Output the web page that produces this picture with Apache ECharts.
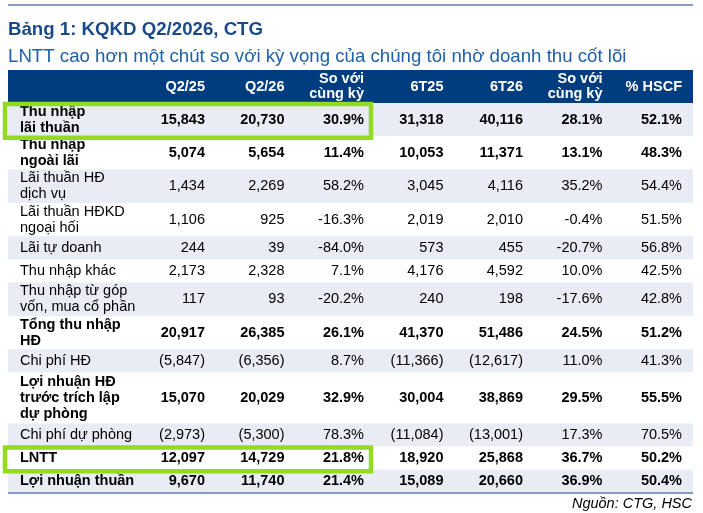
<!DOCTYPE html>
<html>
<head>
<meta charset="utf-8">
<script src="https://cdn.jsdelivr.net/npm/echarts@6/dist/echarts.min.js"></script>
<style>
  html, body { margin: 0; padding: 0; background: #fff; }
  #main { width: 703px; height: 513px; }
</style>
</head>
<body>
<div id="main"></div>
<script>
// cột tiêu đề
const columns = ['', 'Q2/25', 'Q2/26', 'So với\ncùng kỳ', '6T25', '6T26', 'So với\ncùng kỳ', '% HSCF'];

// tên dòng
const rowNames = [
  'Thu nhập\nlãi thuần',
  'Thu nhập\nngoài lãi',
  'Lãi thuần HĐ\ndịch vụ',
  'Lãi thuần HĐKD\nngoại hối',
  'Lãi tự doanh',
  'Thu nhập khác',
  'Thu nhập từ góp\nvốn, mua cổ phần',
  'Tổng thu nhập\nHĐ',
  'Chi phí HĐ',
  'Lợi nhuận HĐ\ntrước trích lập\ndự phòng',
  'Chi phí dự phòng',
  'LNTT',
  'Lợi nhuận thuần'
];

// số liệu (tỷ đồng, %)
const q2_25 = [15843, 5074, 1434, 1106, 244, 2173, 117, 20917, -5847, 15070, -2973, 12097, 9670];
const q2_26 = [20730, 5654, 2269, 925, 39, 2328, 93, 26385, -6356, 20029, -5300, 14729, 11740];
const yoyQ = [30.9, 11.4, 58.2, -16.3, -84.0, 7.1, -20.2, 26.1, 8.7, 32.9, 78.3, 21.8, 21.4];
const h1_25 = [31318, 10053, 3045, 2019, 573, 4176, 240, 41370, -11366, 30004, -11084, 18920, 15089];
const h1_26 = [40116, 11371, 4116, 2010, 455, 4592, 198, 51486, -12617, 38869, -13001, 25868, 20660];
const yoyH = [28.1, 13.1, 35.2, -0.4, -20.7, 10.0, -17.6, 24.5, 11.0, 29.5, 17.3, 36.7, 36.9];
const hscf = [52.1, 48.3, 54.4, 51.5, 56.8, 42.5, 42.8, 51.2, 41.3, 55.5, 70.5, 50.2, 50.4];

const boldRows = ['Thu nhập\nlãi thuần', 'Thu nhập\nngoài lãi', 'Tổng thu nhập\nHĐ',
  'Lợi nhuận HĐ\ntrước trích lập\ndự phòng', 'LNTT', 'Lợi nhuận thuần'];
const highlightRows = ['Thu nhập\nlãi thuần', 'LNTT'];
const highlightToCol = 3; // khung xanh tới cột "So với cùng kỳ" đầu tiên

const FONT = '"Liberation Sans", Arial, sans-serif';
const NAVY = '#003d7e';
const GRAY = '#e9ecf4';
const GREEN = '#94da22';
const RULE = '#5f7db0';

// 1 đơn vị trục x = 1 cột số
const COL_PX = 79.5;
const GRID_W = 685;
const X_MAX = GRID_W / COL_PX;
const LABEL_X = 12 / COL_PX;
const NUM_X0 = 2.478;
const ROW_H = { 1: 23.2, 2: 33.3, 3: 51 };
const HEAD_H = 33;

const fmtNum = v => v < 0 ? '(' + Math.abs(v).toLocaleString('en-US') + ')' : v.toLocaleString('en-US');
const fmtPct = v => v.toFixed(1) + '%';

const tableRows = [columns].concat(rowNames.map((n, i) => [
  n, fmtNum(q2_25[i]), fmtNum(q2_26[i]), fmtPct(yoyQ[i]),
  fmtNum(h1_25[i]), fmtNum(h1_26[i]), fmtPct(yoyH[i]), fmtPct(hscf[i])
]));

const rowH = tableRows.map((r, i) => i === 0 ? HEAD_H : ROW_H[r[0].split('\n').length]);
const tops = [];
let acc = 0;
rowH.forEach(h => { tops.push(acc); acc += h; });
const Y_MAX = acc;

const rowData = tableRows.map((r, i) => [i, tops[i], tops[i] + rowH[i]]);
const hlData = rowData.filter(d => highlightRows.includes(tableRows[d[0]][0]));

function renderRow(params, api) {
  const i = api.value(0);
  const p0 = api.coord([0, api.value(1)]);
  const p1 = api.coord([X_MAX, api.value(2)]);
  const isHead = i === 0;
  const bold = isHead || boldRows.includes(tableRows[i][0]);
  const fill = isHead ? NAVY : (i % 2 === 1 ? GRAY : '#fff');
  const yMid = (p0[1] + p1[1]) / 2;
  const children = [{
    type: 'rect',
    shape: { x: p0[0], y: p0[1], width: p1[0] - p0[0], height: p1[1] - p0[1] },
    style: { fill: fill }
  }];
  tableRows[i].forEach((txt, c) => {
    if (!txt) return;
    const x = api.coord([c === 0 ? LABEL_X : NUM_X0 + c - 1, 0])[0];
    children.push({
      type: 'text',
      style: {
        text: txt, x: x, y: yMid,
        align: c === 0 ? 'left' : 'right', verticalAlign: 'middle',
        fontFamily: FONT, fontSize: 14.5, fontWeight: bold ? 'bold' : 'normal',
        lineHeight: isHead ? 15.5 : 16,
        fill: isHead ? '#fff' : '#000'
      }
    });
  });
  if (i === tableRows.length - 1) {
    children.push({
      type: 'line',
      shape: { x1: p0[0], y1: p1[1], x2: p1[0], y2: p1[1] },
      style: { stroke: RULE, lineWidth: 1.5 }
    });
  }
  return { type: 'group', children: children };
}

function renderBox(params, api) {
  const p0 = api.coord([0, api.value(1)]);
  const p1 = api.coord([NUM_X0 + highlightToCol - 1, api.value(2)]);
  return {
    type: 'rect',
    shape: { x: p0[0] - 3, y: p0[1] + 1, width: p1[0] + 7 - (p0[0] - 3), height: p1[1] - p0[1] + 0.5 },
    style: { fill: 'none', stroke: GREEN, lineWidth: 4.5 }
  };
}

const chart = echarts.init(document.getElementById('main'));
chart.setOption({
  animation: false,
  title: [
    {
      text: 'Bảng 1: KQKD Q2/2026, CTG', left: 8, top: 20, padding: 0,
      textStyle: { fontFamily: FONT, fontSize: 18.67, fontWeight: 'bold', color: '#1b4a8b' }
    },
    {
      text: 'LNTT cao hơn một chút so với kỳ vọng của chúng tôi nhờ doanh thu cốt lõi', left: 8, top: 47, padding: 0,
      textStyle: { fontFamily: FONT, fontSize: 18.67, fontWeight: 'normal', color: '#2060a8' }
    },
    {
      text: 'Nguồn: CTG, HSC', right: 11, top: 496, padding: 0,
      textStyle: { fontFamily: FONT, fontSize: 14.5, fontWeight: 'normal', fontStyle: 'italic', color: '#000' }
    }
  ],
  graphic: [{
    type: 'line',
    shape: { x1: 8, y1: 5, x2: 693, y2: 5 },
    style: { stroke: RULE, lineWidth: 1.5 }
  }],
  grid: { left: 8, top: 70, width: GRID_W, height: Y_MAX },
  xAxis: { type: 'value', min: 0, max: X_MAX, show: false },
  yAxis: { type: 'value', min: 0, max: Y_MAX, inverse: true, show: false },
  series: [
    { type: 'custom', renderItem: renderRow, data: rowData, clip: false, silent: true },
    { type: 'custom', renderItem: renderBox, data: hlData, clip: false, silent: true, z: 3 }
  ]
});
</script>
</body>
</html>
